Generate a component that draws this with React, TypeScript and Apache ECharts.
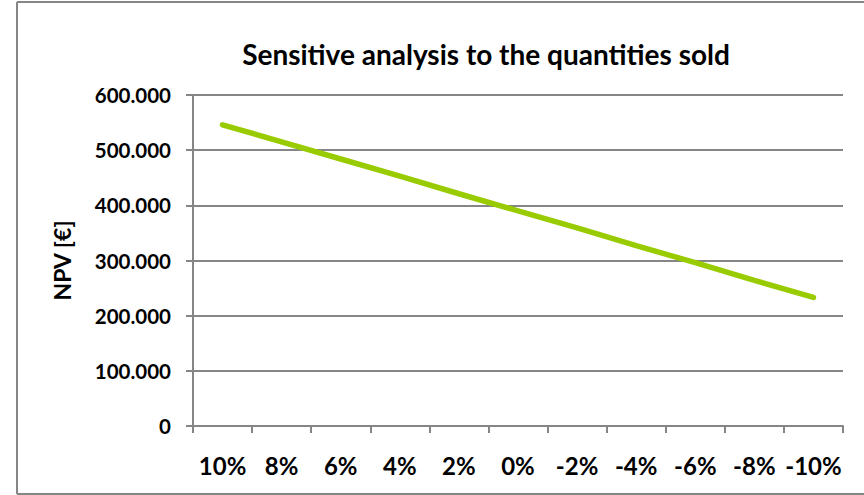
import React, { useEffect, useRef } from "react";
import * as echarts from "echarts";

const title = "Sensitive analysis to the quantities sold";
const axisName = "NPV [€]";
const changes = ["10%", "8%", "6%", "4%", "2%", "0%", "-2%", "-4%", "-6%", "-8%", "-10%"];
const npv = [546000, 515000, 484000, 453000, 421000, 390000, 359000, 327000, 296000, 264000, 233000];
const yTicks = { min: 0, max: 600000, step: 100000 };

const FONT = "Lato";
const GRAY = "#868686";

function fmt(v: number): string {
  return String(Math.round(v)).replace(/\B(?=(\d{3})+(?!\d))/g, ".");
}

export default function App() {
  const ref = useRef<HTMLDivElement>(null);
  useEffect(() => {
    if (!ref.current) return;
    const chart = echarts.init(ref.current, undefined, { renderer: "svg" });
    chart.setOption({
      animation: false,
      backgroundColor: "#ffffff",
      textStyle: { fontFamily: FONT },
      graphic: [
        // chart frame
        { type: "line", shape: { x1: 17, y1: 2, x2: 864, y2: 2 }, style: { stroke: GRAY, lineWidth: 2 }, silent: true },
        { type: "line", shape: { x1: 17, y1: 2, x2: 17, y2: 494 }, style: { stroke: GRAY, lineWidth: 2 }, silent: true },
        { type: "line", shape: { x1: 17, y1: 494, x2: 864, y2: 494 }, style: { stroke: GRAY, lineWidth: 2 }, silent: true },
        {
          type: "text",
          x: 486,
          y: 54,
          style: {
            text: title,
            fontFamily: FONT,
            fontWeight: "bold",
            fontSize: 28,
            fill: "#000",
            align: "center",
            verticalAlign: "middle",
          },
        },
      ],
      grid: { left: 193, right: 21, top: 95, bottom: 69 },
      xAxis: {
        type: "category",
        data: changes,
        boundaryGap: true,
        axisLine: { lineStyle: { color: GRAY, width: 2 } },
        axisTick: { show: true, length: 7, interval: 0, lineStyle: { color: GRAY, width: 2 } },
        axisLabel: { interval: 0, color: "#000", fontWeight: "bold", fontSize: 24, fontFamily: FONT, margin: 27 },
      },
      yAxis: {
        type: "value",
        min: yTicks.min,
        max: yTicks.max,
        interval: yTicks.step,
        name: axisName,
        nameLocation: "middle",
        nameRotate: 90,
        nameGap: 120,
        nameTextStyle: { color: "#000", fontWeight: "bold", fontSize: 23, fontFamily: FONT },
        axisLine: { show: true, lineStyle: { color: GRAY, width: 2 } },
        axisTick: { show: true, length: 7, lineStyle: { color: GRAY, width: 2 } },
        axisLabel: { color: "#000", fontWeight: "bold", fontSize: 20.5, fontFamily: FONT, margin: 22, formatter: (v: number) => fmt(v) },
        splitLine: { show: true, lineStyle: { color: GRAY, width: 2 } },
      },
      series: [
        {
          type: "line",
          data: npv,
          symbol: "none",
          lineStyle: { color: "#99CC00", width: 5.5, cap: "round" },
        },
      ],
    });
    return () => chart.dispose();
  }, []);
  return <div ref={ref} style={{ position: "absolute", left: 0, top: 0, width: 864, height: 495 }} />;
}
